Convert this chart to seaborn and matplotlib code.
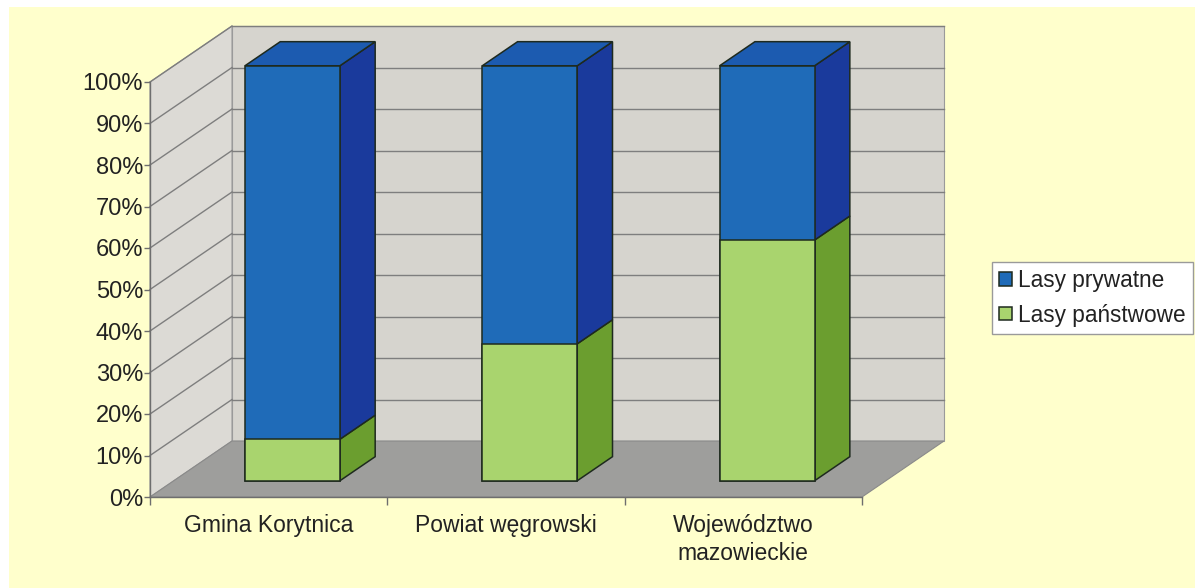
import matplotlib
matplotlib.use("Agg")
import matplotlib.pyplot as plt
import matplotlib.transforms as mtrans
from matplotlib.patches import Polygon, Rectangle
import seaborn as sns
import numpy as np

# ---- data ----
categories = ["Gmina Korytnica", "Powiat węgrowski", "Województwo\nmazowieckie"]
lasy_panstwowe = [10, 33, 58]
lasy_prywatne = [90, 67, 42]
series_names = ["Lasy prywatne", "Lasy państwowe"]
y_ticks = [0, 10, 20, 30, 40, 50, 60, 70, 80, 90, 100]
y_tick_labels = [f"{v}%" for v in y_ticks]

# ---- style ----
plt.rcParams["font.family"] = ["Liberation Sans", "DejaVu Sans"]
BG = "#FFFFCC"
WALL = "#D6D4CE"
SIDEWALL = "#DCDAD5"
FLOOR = "#9E9E9C"
GRID = "#7E7E7E"
BLUE_F, BLUE_S, BLUE_T = "#1F6BB8", "#1A3A9C", "#1C5BB0"
GREEN_F, GREEN_S = "#A9D46E", "#6B9E2F"
EDGE = "#1E2A1E"

W, H = 1195, 588
fig = plt.figure(figsize=(W / 100, H / 100), dpi=100)
fig.patch.set_facecolor("white")
fig.patches.append(Rectangle((9 / W, 0), 1 - 9 / W, 1 - 7 / H, transform=fig.transFigure,
                             facecolor=BG, edgecolor="none", zorder=-10))

# front plane of the plot box: x 150..862 px, y 497..82 px (from top)
ax = fig.add_axes([150 / W, (H - 497) / H, 712 / W, 415 / H])
ax.patch.set_visible(False)

n = len(categories)
totals = [a + b for a, b in zip(lasy_panstwowe, lasy_prywatne)]

sns.barplot(x=categories, y=totals, color=BLUE_F, saturation=1, width=0.4,
            edgecolor=EDGE, linewidth=1.1, ax=ax, label=series_names[0], zorder=3)
sns.barplot(x=categories, y=lasy_panstwowe, color=GREEN_F, saturation=1, width=0.4,
            edgecolor=EDGE, linewidth=1.1, ax=ax, label=series_names[1], zorder=3.1)

ax.set_xlim(-0.5, n - 0.5)
ax.set_ylim(0, 100)

# depth of the 3D box in data units
Dx = 82 / (712 / n)
Dy = 56 / (415 / 100)
f0, fd = 0.29, 0.43          # bar front depth fraction, bar depth fraction
off = mtrans.Affine2D().translate(f0 * Dx, f0 * Dy) + ax.transData
bdx, bdy = fd * Dx, fd * Dy

x0, x1 = -0.5, n - 0.5
# walls and floor
ax.add_patch(Polygon([(x0 + Dx, Dy), (x1 + Dx, Dy), (x1 + Dx, 100 + Dy), (x0 + Dx, 100 + Dy)],
                     closed=True, facecolor=WALL, edgecolor="#9A9A9A", lw=0.8, zorder=0.5, clip_on=False))
ax.add_patch(Polygon([(x0, 0), (x0 + Dx, Dy), (x0 + Dx, 100 + Dy), (x0, 100)],
                     closed=True, facecolor=SIDEWALL, edgecolor="#9A9A9A", lw=0.8, zorder=0.5, clip_on=False))
ax.add_patch(Polygon([(x0, 0), (x1, 0), (x1 + Dx, Dy), (x0 + Dx, Dy)],
                     closed=True, facecolor=FLOOR, edgecolor="#8A8A8A", lw=0.8, zorder=0.6, clip_on=False))
for v in y_ticks[1:]:
    ax.plot([x0 + Dx, x1 + Dx], [v + Dy, v + Dy], color=GRID, lw=1.0, zorder=0.8, clip_on=False)
    ax.plot([x0, x0 + Dx], [v, v + Dy], color=GRID, lw=1.0, zorder=0.8, clip_on=False)

# shift seaborn's bars to their depth and add side/top faces
blue_bars = ax.containers[0].patches
green_bars = ax.containers[1].patches
for bb, gb in zip(blue_bars, green_bars):
    bb.set_transform(off)
    gb.set_transform(off)
    bb.set_clip_on(False)
    gb.set_clip_on(False)
    x, w = bb.get_x(), bb.get_width()
    g, t = gb.get_height(), bb.get_height()
    xr = x + w
    faces = [
        ([(xr, 0), (xr + bdx, bdy), (xr + bdx, g + bdy), (xr, g)], GREEN_S),
        ([(xr, g), (xr + bdx, g + bdy), (xr + bdx, t + bdy), (xr, t)], BLUE_S),
        ([(x, t), (x + bdx, t + bdy), (xr + bdx, t + bdy), (xr, t)], BLUE_T),
    ]
    for pts, col in faces:
        ax.add_patch(Polygon(pts, closed=True, facecolor=col, edgecolor=EDGE, lw=1.1,
                             transform=off, zorder=2.9, clip_on=False))

# axes styling
for s in ["top", "right"]:
    ax.spines[s].set_visible(False)
for s in ["left", "bottom"]:
    ax.spines[s].set_color("#6E6E6E")
    ax.spines[s].set_linewidth(1.0)
    ax.spines[s].set_zorder(1)

ax.set_yticks(y_ticks)
ax.set_yticklabels(y_tick_labels)
ax.tick_params(axis="y", length=4, width=1, color="#6E6E6E", pad=1, labelsize=17, labelcolor="#222222")
ax.set_xticks(range(n))
ax.set_xticklabels(categories, linespacing=1.3)
ax.set_xticks(np.arange(n + 1) - 0.5, minor=True)
ax.tick_params(axis="x", which="major", length=0, pad=12, labelsize=16.5, labelcolor="#222222")
ax.tick_params(axis="x", which="minor", length=6, width=1, color="#6E6E6E")
ax.set_xlabel("")
ax.set_ylabel("")
ax.grid(False)

leg = ax.legend([ax.containers[0], ax.containers[1]], series_names,
                loc="upper left", bbox_to_anchor=(992 / W, 1 - 262 / H), bbox_transform=fig.transFigure,
                fontsize=16.3, frameon=True, fancybox=False, framealpha=1, edgecolor="#9A9A9A",
                handlelength=0.55, handleheight=0.55, handletextpad=0.3, labelspacing=0.5,
                borderpad=0.32, borderaxespad=0)
leg.get_frame().set_linewidth(1.0)
for t in leg.get_texts():
    t.set_color("#222222")

fig.savefig("out.png", dpi=100, facecolor=fig.get_facecolor())
